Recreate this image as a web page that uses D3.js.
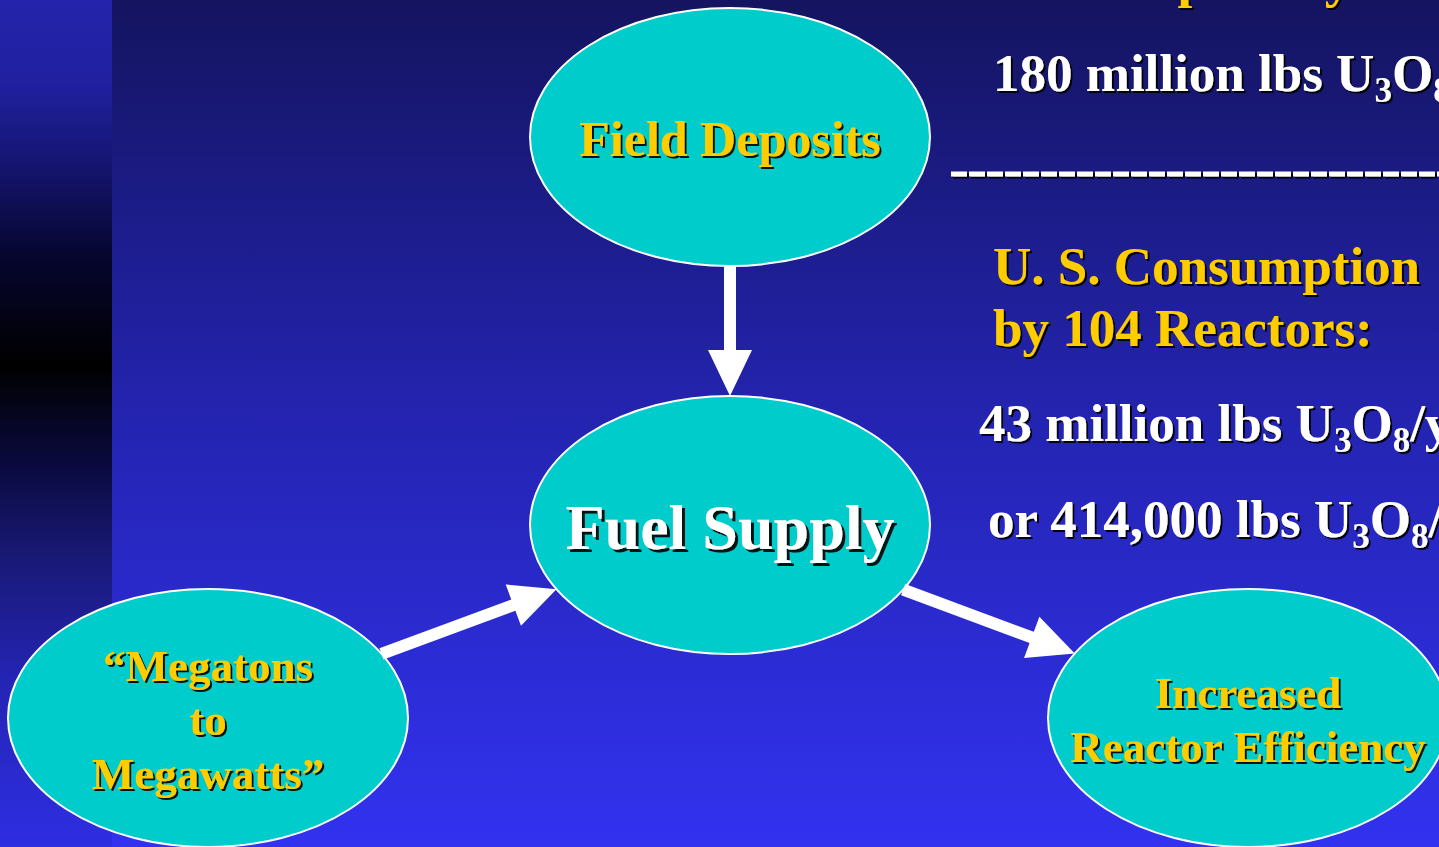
<!DOCTYPE html>
<html>
<head>
<meta charset="utf-8">
<script src="https://cdn.jsdelivr.net/npm/d3@7"></script>
<style>
  html, body { margin: 0; padding: 0; overflow: hidden; background: #141460; }
  text { font-family: "Liberation Serif", "Times New Roman", serif; font-weight: bold; }
</style>
</head>
<body>
<svg id="slide" width="1439" height="847"></svg>
<script>
// node labels and links
var nodeNames = ["Field Deposits", "Fuel Supply", "Megatons to Megawatts", "Increased Reactor Efficiency"];
var nodeLines = [["Field Deposits"], ["Fuel Supply"], ["\u201CMegatons", "to", "Megawatts\u201D"], ["Increased", "Reactor Efficiency"]];
var links = [
  ["Field Deposits", "Fuel Supply"],
  ["Megatons to Megawatts", "Fuel Supply"],
  ["Fuel Supply", "Increased Reactor Efficiency"]
];

// right hand text, "_" marks a subscript
var supplyTitle = ["U. S. Capability"];
var supplyAmount = ["180 million lbs U", "_3", "O", "_8"];
var consumptionTitle = ["U. S. Consumption", "by 104 Reactors:"];
var yearlyUse = ["43 million lbs U", "_3", "O", "_8", "/yr"];
var reactorUse = ["or 414,000 lbs U", "_3", "O", "_8", "/reactor"];

drawSlide();

function drawSlide() {

  var WIDTH = 1439,
    HEIGHT = 847,
    RX = 200,
    RY = 129,
    GOLD = "#FFCC00";

  var layout = {
    "Field Deposits": { cx: 730, cy: 137, size: 50, color: GOLD },
    "Fuel Supply": { cx: 730, cy: 525, size: 64, color: "#FFFFFF" },
    "Megatons to Megawatts": { cx: 208, cy: 718, size: 45, color: GOLD },
    "Increased Reactor Efficiency": { cx: 1248, cy: 718, size: 45, color: GOLD }
  };

  var vis = d3.select("#slide");
  var defs = vis.append("defs");

  var bg = defs.append("linearGradient").attr("id", "bg")
    .attr("x1", 0).attr("y1", 0).attr("x2", 0).attr("y2", 1);
  [[0, "#141460"], [0.5, "#2424b2"], [1, "#3232f0"]].forEach(function (s) {
    bg.append("stop").attr("offset", s[0]).attr("stop-color", s[1]);
  });

  var strip = defs.append("linearGradient").attr("id", "strip")
    .attr("x1", 0).attr("y1", 0).attr("x2", 0).attr("y2", 1);
  [[0, "#2424ac"], [0.1, "#2020a0"], [0.2, "#14146c"], [0.3, "#060630"], [0.43, "#000000"],
   [0.55, "#0a0a40"], [0.65, "#181872"], [0.8, "#2424b4"], [1, "#2e2ee2"]].forEach(function (s) {
    strip.append("stop").attr("offset", s[0]).attr("stop-color", s[1]);
  });

  function shadow(id, d) {
    defs.append("filter").attr("id", id)
      .attr("x", "-10%").attr("y", "-30%").attr("width", "130%").attr("height", "160%")
      .append("feDropShadow")
      .attr("dx", d).attr("dy", d).attr("stdDeviation", 0)
      .attr("flood-color", "#000").attr("flood-opacity", 0.9);
  }
  shadow("sh2", 2);
  shadow("sh3", 3);

  vis.append("rect").attr("width", WIDTH).attr("height", HEIGHT).attr("fill", "url(#bg)");
  vis.append("rect").attr("width", 112).attr("height", HEIGHT).attr("fill", "url(#strip)");

  // ellipses
  var nodes = vis.selectAll("g.node")
    .data(nodeNames)
    .enter().append("g")
    .attr("class", "node")
    .attr("transform", function (d) { return "translate(" + layout[d].cx + "," + layout[d].cy + ")"; });

  nodes.append("ellipse")
    .attr("rx", RX).attr("ry", RY)
    .attr("fill", "#00CCCC")
    .attr("stroke", "#FFFFFF")
    .attr("stroke-width", 2);

  nodes.each(function (d, i) {
    var L = layout[d],
      lines = nodeLines[i],
      lineH = L.size * 1.2;
    d3.select(this).append("g")
      .attr("filter", L.size > 60 ? "url(#sh3)" : "url(#sh2)")
      .selectAll("text")
      .data(lines)
      .enter().append("text")
      .attr("text-anchor", "middle")
      .attr("x", 0)
      .attr("y", function (t, j) { return L.size * 0.38 + (j - (lines.length - 1) / 2) * lineH; })
      .attr("font-size", L.size)
      .attr("fill", L.color)
      .text(function (t) { return t; });
  });

  // arrows, clipped to the ellipse edges
  function edge(dx, dy) {
    return 1 / Math.sqrt((dx / RX) * (dx / RX) + (dy / RY) * (dy / RY));
  }

  var arrowPath = links.map(function (l) {
    var a = layout[l[0]], b = layout[l[1]];
    var dx = b.cx - a.cx, dy = b.cy - a.cy;
    var t = edge(dx, dy);
    var len = Math.sqrt(dx * dx + dy * dy);
    var ux = dx / len, uy = dy / len, nx = -uy, ny = ux;
    var sx = a.cx + dx * t, sy = a.cy + dy * t;
    var ex = b.cx - dx * t, ey = b.cy - dy * t;
    var hl = 46, hh = 22, hw = 6;
    var bx = ex - ux * hl, by = ey - uy * hl;
    return [
      [sx + nx * hw, sy + ny * hw],
      [bx + nx * hw, by + ny * hw],
      [bx + nx * hh, by + ny * hh],
      [ex, ey],
      [bx - nx * hh, by - ny * hh],
      [bx - nx * hw, by - ny * hw],
      [sx - nx * hw, sy - ny * hw]
    ];
  });

  vis.selectAll("path.arrow")
    .data(arrowPath)
    .enter().append("path")
    .attr("class", "arrow")
    .attr("d", function (d) { return d3.line()(d) + "Z"; })
    .attr("fill", "#FFFFFF");

  // right hand block (runs off the slide edge as in the original)
  var block = vis.append("g").attr("filter", "url(#sh2)");

  function writeLine(parts, x, y, color) {
    var t = block.append("text")
      .attr("x", x).attr("y", y)
      .attr("font-size", 53)
      .attr("fill", color);
    var down = false;
    parts.forEach(function (p) {
      var sub = p.charAt(0) === "_";
      var span = t.append("tspan").text(sub ? p.slice(1) : p);
      if (sub) {
        span.attr("font-size", 35).attr("dy", 11);
        down = true;
      } else if (down) {
        span.attr("dy", -11);
        down = false;
      }
    });
  }

  writeLine(supplyTitle, 992, -3, GOLD);
  writeLine(supplyAmount, 993, 91, "#FFFFFF");
  writeLine([consumptionTitle[0]], 993, 284, GOLD);
  writeLine([consumptionTitle[1]], 993, 346, GOLD);
  writeLine(yearlyUse, 979, 441, "#FFFFFF");
  writeLine(reactorUse, 988, 537, "#FFFFFF");

  block.append("line")
    .attr("x1", 951).attr("x2", WIDTH)
    .attr("y1", 174).attr("y2", 174)
    .attr("stroke", "#FFFFFF")
    .attr("stroke-width", 5)
    .attr("stroke-dasharray", "16,2");
}
</script>
</body>
</html>
